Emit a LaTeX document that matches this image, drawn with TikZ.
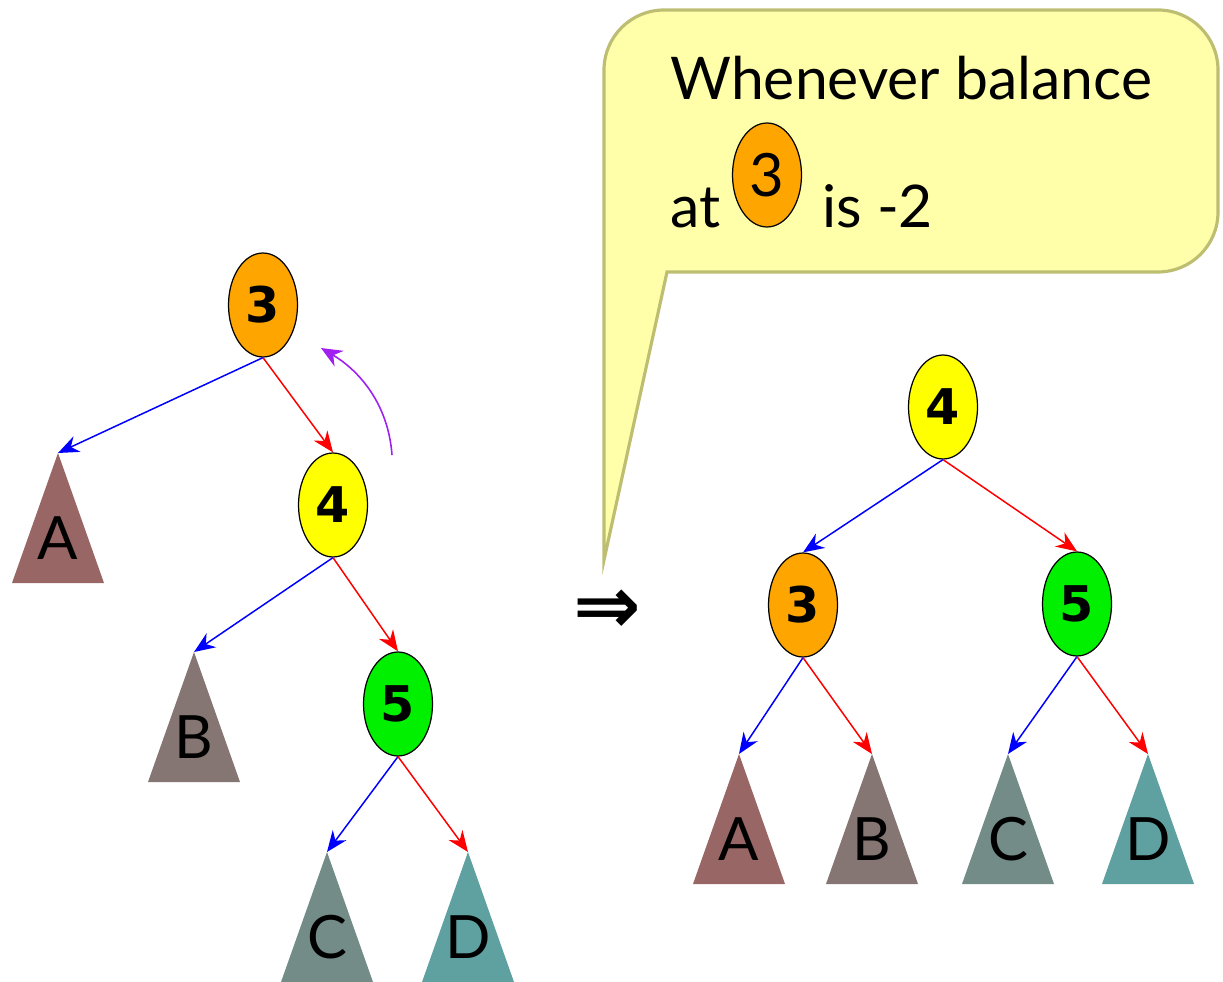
\documentclass[tikz,border=0pt]{standalone}
\usepackage{fontspec}
\setmainfont{Lato}
\newfontfamily\digitfont{DejaVu Sans}
\usetikzlibrary{arrows.meta,shapes.geometric}
\definecolor{cA}{RGB}{153,102,102}
\definecolor{cB}{RGB}{133,117,115}
\definecolor{cC}{RGB}{115,140,136}
\definecolor{cD}{RGB}{95,160,160}
\definecolor{orangeN}{RGB}{255,165,0}
\definecolor{yellowN}{RGB}{255,255,0}
\definecolor{greenN}{RGB}{0,240,0}
\definecolor{calloutfill}{RGB}{255,255,170}
\definecolor{calloutedge}{RGB}{190,190,115}
\definecolor{rotpurple}{RGB}{160,32,240}
\tikzset{
  treenode/.style={ellipse, draw=black, line width=0.7pt, minimum width=1.38cm,
    minimum height=2.08cm, inner sep=0pt,
    font=\digitfont\bfseries\fontsize{28}{28}\selectfont},
  subletter/.style={inner sep=0pt, font=\fontsize{34}{34}\selectfont},
  lft/.style={blue, line width=0.85pt, -{Stealth[length=0.42cm,width=0.34cm]}},
  rgt/.style={red, line width=0.85pt, -{Stealth[length=0.42cm,width=0.34cm]}},
  rot/.style={rotpurple, line width=0.9pt, -{Stealth[length=0.42cm,width=0.36cm]}},
  callouttext/.style={inner sep=0pt, anchor=base west, font=\fontsize{33.5}{34}\selectfont},
}
\newcommand\subtree[5]{%
  \coordinate (#1) at (#2,#3);
  \fill[#4] (#1) -- ++(-46,130) -- ++(92,0) -- cycle;
  \node[subletter] (#1l) at (#2,{#3+85}) {#5};
}
\begin{document}
\begin{tikzpicture}[x=0.02cm,y=-0.02cm]
\useasboundingbox (0,0) rectangle (1223,982);

% callout
\draw[calloutedge, line width=1.8pt, fill=calloutfill]
  (604,560) -- (604,70) arc[start angle=180,end angle=90,radius=1.2cm]
  -- (1158,10) arc[start angle=90,end angle=0,radius=1.2cm]
  -- (1218,212) arc[start angle=0,end angle=-90,radius=1.2cm]
  -- (667,272) -- cycle;
\node[callouttext] (t1) at (670,100) {Whenever balance};
\node[callouttext] (t2) at (670,228) {at};
\node[treenode, fill=orangeN, font=\fontsize{34}{34}\selectfont] (c3) at (767,175) {3};
\node[callouttext] (t3) at (822,228) {is -2};

% left tree
\node[treenode, fill=orangeN] (n3) at (263,305) {3};
\node[treenode, fill=yellowN] (n4) at (333,505) {4};
\node[treenode, fill=greenN] (n5) at (398,704) {5};
\subtree{lA}{58}{453}{cA}{A}
\subtree{lB}{194}{652}{cB}{B}
\subtree{lC}{327}{852}{cC}{C}
\subtree{lD}{468}{852}{cD}{D}
\draw[lft] (n3.south) -- (lA);
\draw[rgt] (n3.south) -- (n4.north);
\draw[lft] (n4.south) -- (lB);
\draw[rgt] (n4.south) -- (n5.north);
\draw[lft] (n5.south) -- (lC);
\draw[rgt] (n5.south) -- (lD);
\coordinate (rs) at (392,455);
\coordinate (re) at (321,348);
\draw[rot] (rs) .. controls (388,400) and (355,368) .. (re);

% implies
\node[inner sep=0pt, font=\digitfont\bfseries\fontsize{46}{46}\selectfont] (imp) at (607,612) {⇒};

% right tree
\node[treenode, fill=yellowN] (m4) at (943,407) {4};
\node[treenode, fill=orangeN] (m3) at (803,605) {3};
\node[treenode, fill=greenN] (m5) at (1077,604) {5};
\subtree{rA}{739}{754}{cA}{A}
\subtree{rB}{872}{754}{cB}{B}
\subtree{rC}{1008}{754}{cC}{C}
\subtree{rD}{1148}{754}{cD}{D}
\draw[lft] (m4.south) -- (m3.north);
\draw[rgt] (m4.south) -- (m5.north);
\draw[lft] (m3.south) -- (rA);
\draw[rgt] (m3.south) -- (rB);
\draw[lft] (m5.south) -- (rC);
\draw[rgt] (m5.south) -- (rD);
\end{tikzpicture}
\end{document}
